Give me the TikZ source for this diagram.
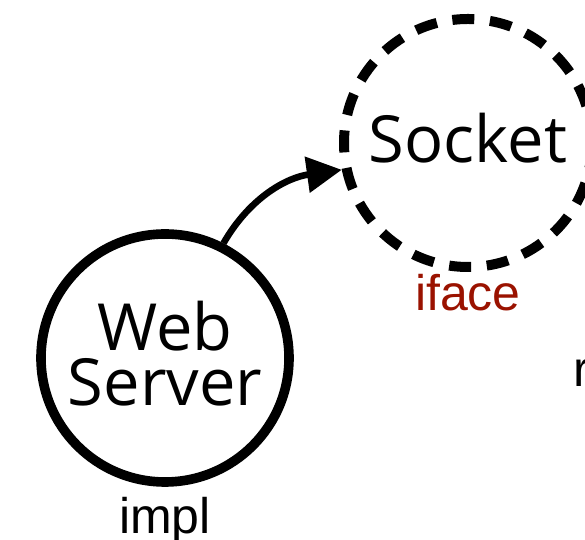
\documentclass[tikz,border=0pt]{standalone}
\usepackage{fontspec}
\setmainfont{Liberation Sans}
\newfontfamily\compfont{Open Sans}
\usetikzlibrary{positioning, arrows.meta}
\definecolor{ifacered}{HTML}{9A1200}

\begin{document}
\begin{tikzpicture}[x=0.5pt, y=0.5pt,
    comp/.style={circle, draw, line width=4.8pt, minimum size=124pt, text depth=5pt,
                 align=center, font=\compfont\fontsize{32.5pt}{27.5pt}\selectfont},
    lbl/.style={inner sep=0pt, font=\fontsize{25pt}{30pt}\selectfont}]
    \useasboundingbox (0,0) rectangle (585,540);
    \node[comp] (web) at (165,182) {Web\\Server};
    \node[comp, dash pattern=on 11pt off 7.85pt, line width=5pt] (sock) at (468,397) {Socket};
    \node[lbl, below=5pt of web] (impl) {impl};
    \node[lbl, text=ifacered, below=1pt of sock] (iface) {iface};
    \node[lbl, anchor=base west] (rest) at (573,153) {r};
    \draw[line width=3.3pt, -{Triangle[length=17.5pt, width=17.5pt]}]
        (web.63) to[out=60, in=188] (sock.192);
\end{tikzpicture}
\end{document}
